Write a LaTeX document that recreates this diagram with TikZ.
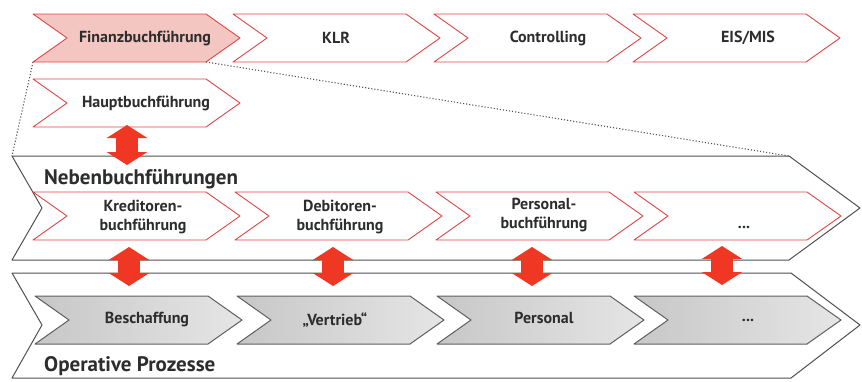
\documentclass[tikz,border=0pt]{standalone}
\usepackage{fontspec}
\setmainfont{PT Sans}
\usetikzlibrary{arrows.meta}
\definecolor{txt}{RGB}{45,45,45}
\definecolor{redline}{RGB}{222,70,70}
\definecolor{pinkline}{RGB}{246,200,200}
\definecolor{finfill}{RGB}{243,198,194}
\definecolor{grayline}{RGB}{95,95,95}
\definecolor{bandline}{RGB}{80,80,80}
\definecolor{arrowred}{RGB}{240,55,35}
\tikzset{
  chev/.pic={
    \path[pic actions] (0,-24) -- (173,-24) -- (207,0) -- (173,24) -- (0,24) -- (34,0) -- cycle;
    \coordinate (-bl) at (0,24);
    \coordinate (-br) at (173,24);
  }
}
\begin{document}
\begin{tikzpicture}[x=1pt,y=-1pt,line join=round,
  lbl/.style={font=\fontsize{16}{19}\selectfont\bfseries, text=txt, align=center, inner sep=0pt},
  bandlbl/.style={font=\fontsize{21}{24}\selectfont\bfseries, text=txt, anchor=west, inner sep=0pt},
  redchev/.style={draw=redline, line width=0.9pt, fill=white, preaction={draw=pinkline, line width=2.6pt}},
  graychev/.style={draw=grayline, line width=1pt, left color=black!22, right color=black!10},
  band/.style={draw=bandline, line width=1pt, fill=white},
  dots/.style={draw=bandline, dotted, line width=1.1pt},
  fatarrow/.style={draw=arrowred, line width=22pt, {Triangle[length=13pt,width=40pt]}-{Triangle[length=13pt,width=40pt]}}
]
\useasboundingbox (0,0) rectangle (862,381);

% bands
\path[band] (12,156) coordinate (nbtl) -- (789,156) coordinate (nbtr) -- (860,208) -- (789,260) -- (12,260) -- (42,208) -- cycle;
\path[band] (12,273) -- (791,273) -- (860,325) -- (791,378) -- (12,378) -- (42,325) -- cycle;

% top row
\pic[redchev, fill=finfill] (fin) at (33,38) {chev};
\pic[redchev] (klr) at (233,38) {chev};
\pic[redchev] (ctl) at (434,38) {chev};
\pic[redchev] (eis) at (633,38) {chev};
\node[lbl] (tfin) at (145,38) {Finanzbuchführung};
\node[lbl] (tklr) at (336,38) {KLR};
\node[lbl] (tctl) at (548,38) {Controlling};
\node[lbl] (teis) at (748,38) {EIS/MIS};

% dotted zoom lines
\draw[dots] (fin-bl) -- (nbtl);
\draw[dots] (fin-br) -- (nbtr);

% Hauptbuch
\pic[redchev] (hb) at (33,103) {chev};
\node[lbl] (thb) at (146,103) {Hauptbuchführung};

% Neben subs
\pic[redchev] (kr) at (33,216) {chev};
\pic[redchev] (db) at (235,216) {chev};
\pic[redchev] (pb) at (436,216) {chev};
\pic[redchev] (nx) at (634,216) {chev};
\node[lbl] (tkr) at (143,217) {Kreditoren-\\buchführung};
\node[lbl] (tdb) at (340,217) {Debitoren-\\buchführung};
\node[lbl] (tpb) at (544,215) {Personal-\\buchführung};
\node[lbl] (tnx) at (744,227) {...};

% Operative subs
\pic[graychev] (be) at (35,320) {chev};
\pic[graychev] (vt) at (237,320) {chev};
\pic[graychev] (pe) at (437,320) {chev};
\pic[graychev] (ox) at (634,320) {chev};
\node[lbl] (tbe) at (147,320) {Beschaffung};
\node[lbl] (tvt) at (335,320) {„Vertrieb“};
\node[lbl] (tpe) at (544,318) {Personal};
\node[lbl] (tox) at (748,320) {...};

% band labels
\node[bandlbl] (lneb) at (44,179) {Nebenbuchführungen};
\node[bandlbl] (lop) at (44,366) {Operative Prozesse};

% red double arrows
\coordinate (a1t) at (127,125); \coordinate (a1b) at (127,165);
\coordinate (a2t) at (129,247); \coordinate (a2b) at (129,286);
\coordinate (a3t) at (333,247); \coordinate (a3b) at (333,286);
\coordinate (a4t) at (532,247); \coordinate (a4b) at (532,286);
\coordinate (a5t) at (722,246); \coordinate (a5b) at (722,285);
\draw[fatarrow] (a1t) -- (a1b);
\draw[fatarrow] (a2t) -- (a2b);
\draw[fatarrow] (a3t) -- (a3b);
\draw[fatarrow] (a4t) -- (a4b);
\draw[fatarrow] (a5t) -- (a5b);
\end{tikzpicture}
\end{document}
